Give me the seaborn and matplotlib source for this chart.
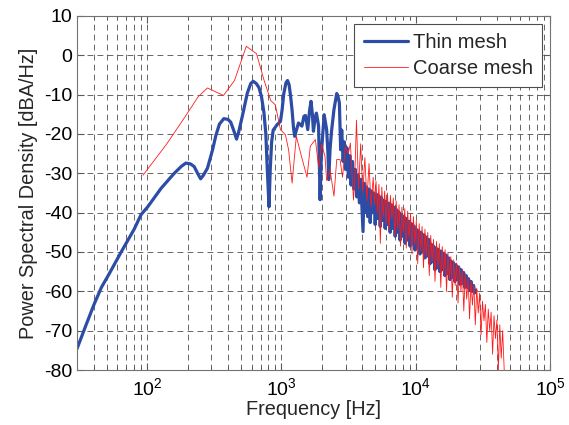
import matplotlib
matplotlib.use("Agg")
import pandas as pd
import matplotlib.pyplot as plt
import seaborn as sns

# Thin mesh spectrum
thin_freq = [30, 35, 40, 45.6, 52, 64, 80, 90, 101, 127, 159, 180, 194, 210, 224, 240, 250, 262,
             281, 307, 324, 345, 372, 400, 419, 440, 463, 480, 511, 557, 590, 616, 650, 680, 710,
             740, 765, 784, 808, 825, 845, 868, 930, 983, 1010, 1040, 1080, 1110, 1140, 1170, 1200,
             1230, 1255, 1280, 1340, 1420, 1470, 1510, 1570, 1620, 1660, 1700, 1730, 1780, 1820,
             1860, 1890, 1920, 1940, 1970, 2000, 2080, 2170, 2220, 2250, 2300, 2360, 2460, 2580,
             2640, 2700, 2760, 2810, 2880, 2940, 3000, 3070, 3150, 3230, 3300, 3380, 3460, 3550,
             3640, 3720, 3810, 3890, 3970, 4050, 4130, 4200,
             4300, 4390, 4490, 4580, 4680, 4780, 4890, 4990, 5100, 5210, 5320, 5440, 5550, 5670,
             5800, 5920, 6050, 6180, 6310, 6450, 6590, 6730, 6880, 7030, 7180, 7330, 7490, 7650,
             7820, 7990, 8160, 8330, 8510, 8700, 8890, 9080, 9270, 9470, 9680, 9890, 10100, 10320,
             10540, 10770, 11000, 11240, 11480, 11730, 11980, 12240, 12500, 12770, 13050, 13330,
             13620, 13910, 14210, 14520, 14830, 15150, 15480, 15810, 16150, 16500, 16860, 17220,
             17590, 17970, 18360, 18760, 19160, 19580, 20000, 20430, 20870, 21320, 21780, 22250,
             22730, 23220, 23720, 24230, 24750, 25290, 25830, 26390, 26960, 27540, 28100]
thin_db = [-74.6, -68.6, -63.5, -59, -55.6, -50, -44.2, -40.5, -38.5, -33.8, -30, -28.2, -27.4,
           -27.6, -28.3, -30.3, -31.4, -30.5, -28.7, -24, -20.5, -17.5, -16.1, -16.3, -17, -19,
           -21.3, -19.5, -15.5, -9.6, -7.2, -6.6, -7.2, -8.2, -10.5, -14.5, -20, -29, -38.5, -29,
           -22, -19, -17.6, -16.8, -14, -9.8, -7, -6.4, -7.5, -10.4, -14, -18.5, -20.6, -19.5,
           -17.2, -18, -15.5, -15.3, -18.9, -14, -11.7, -15, -19.3, -16, -14.7, -16.5, -18, -30,
           -36.7, -28, -23.1, -15.1, -18.9, -25, -31.6, -24, -19.3, -13.8, -9.7, -10.5, -12.1,
           -24, -19, -27, -22, -29, -23.5, -31, -25.5, -33, -27, -34, -29, -36, -30.5, -37.5,
           -31.5, -38, -44.8, -32.5, -40,
           -33.5, -41, -34, -42.5, -34.5, -40, -35, -43, -35.3, -41.5, -35.7, -43.5, -36.2, -42,
           -36.8, -44, -37.2, -43, -37.6, -45, -38, -44, -38.6, -46, -39.2, -45, -39.8, -47,
           -40.5, -46, -41, -47.8, -41.5, -47, -42.2, -48.5, -42.8, -48, -43.4, -49.5, -44.2, -49,
           -44.6, -50.5, -45.1, -50, -45.6, -51.5, -46.2, -51, -46.8, -53, -48, -52.5,
           -48.6, -54.5, -49, -54, -49.4, -55, -49.8, -54.5, -50.3, -56, -50.8, -55.5,
           -51.5, -57, -52.3, -56.5, -52.8, -57.5, -53.3, -57, -53.8, -58.2, -54.5, -58,
           -55.2, -59, -56, -59, -56.8, -59.8, -57.5, -60, -58.5, -60.4, -59.8]

# Coarse mesh spectrum
coarse_freq = [93, 140, 190, 240, 281, 370, 447, 547, 652, 740, 832, 900, 983, 1070, 1130, 1200,
               1290, 1380, 1550, 1640, 1790, 1890, 1990, 2110, 2170, 2300, 2460, 2580, 2730, 2850,
               2990, 3150, 3260, 3440, 3500, 3620, 3750, 3890, 4030, 4180, 4330, 4490, 4650,
               4820, 4940, 5060, 5190, 5320, 5450, 5590, 5730, 5870, 6020, 6170, 6320, 6480, 6640,
               6810, 6980, 7150, 7330, 7510, 7700, 7890, 8090, 8290, 8500, 8710, 8930, 9150, 9380,
               9610, 9850, 10100, 10350, 10610, 10880, 11150, 11430, 11710, 12000, 12300, 12610,
               12930, 13250, 13580, 13920, 14270, 14630, 14990, 15370, 15750, 16140, 16550, 16960,
               17380, 17820, 18260, 18720, 19190, 19670, 20160, 20660, 21180, 21710, 22250, 22800,
               23370, 23960, 24560, 25170, 25800, 26440, 27100, 27780, 28470, 29190, 29920, 30660,
               31430, 32220, 33020, 33850, 34690, 35560, 36450, 37360, 38290, 39250, 40230, 41240,
               42270, 43320, 44400, 45600]
coarse_db = [-30.5, -22.5, -15.8, -10.5, -8.3, -10.2, -6.4, 2.3, 0.4, -6.2, -11.5, -12.6, -18.9,
             -20.2, -24, -32.5, -20.6, -24.5, -31, -23.1, -21.4, -28.4, -22.5, -25.7, -31.8, -29,
             -35.8, -26.5, -26.5, -31, -23.3, -25, -22.3, -36.8, -33, -16.5, -34, -22.5, -35, -26,
             -37, -27.5, -38.5,
             -31, -38, -32, -40, -32.8, -47.8, -33.5, -41, -34.5, -43, -35, -44.5, -35.6, -41.5,
             -36.3, -46, -37, -44, -38, -48.5, -38.6, -45, -39, -49, -39.6, -46.5, -40.3, -50.5,
             -41, -48, -42, -53, -42.8, -49.5, -43.5, -54, -44.2, -51, -45, -56,
             -45.8, -52.5, -46.8, -57.5, -47.3, -54, -47.9, -59, -48.6, -55.5, -49.4, -60,
             -50.3, -57, -51.2, -61.5, -52, -58.5, -52.8, -63, -53.6, -60, -54.5, -65,
             -55.5, -62, -56.5, -67, -57.3, -63.5, -58.3, -68.5, -59.2, -65.5, -60.5, -71,
             -62.5, -67.5, -63.3, -73, -64.5, -70, -65.3, -76, -66.2, -72, -67.3, -80,
             -68.5, -77, -70, -80]

y_ticks = [-80, -70, -60, -50, -40, -30, -20, -10, 0, 10]

thin = pd.DataFrame({'Frequency': thin_freq, 'PSD': thin_db})
coarse = pd.DataFrame({'Frequency': coarse_freq, 'PSD': coarse_db})

sns.set_style("ticks")
plt.rcParams['font.family'] = ['Liberation Sans', 'DejaVu Sans']
plt.rcParams['axes.unicode_minus'] = False

fig = plt.figure(figsize=(5.69, 4.25), dpi=100)
ax = fig.add_axes([0.1353, 0.1294, 0.8313, 0.833])

sns.lineplot(data=thin, x='Frequency', y='PSD', color='#2c4ca6', lw=2.3,
             label='Thin mesh', estimator=None, sort=False, ax=ax)
sns.lineplot(data=coarse, x='Frequency', y='PSD', color='#ff1a1a', lw=0.6,
             label='Coarse mesh', estimator=None, sort=False, ax=ax)

ax.set_xscale('log')
ax.set_xlim(30, 1e5)
ax.set_ylim(-80, 10)
ax.set_yticks(y_ticks)

grid_kw = dict(color='0.3', lw=0.6, linestyle=(0, (7, 5)))
ax.grid(True, which='both', axis='x', **grid_kw)
ax.grid(True, which='major', axis='y', **grid_kw)

ax.tick_params(which='both', direction='in', top=True, right=True, colors='0.35',
               labelcolor='black', labelsize=14)
ax.tick_params(which='major', length=5)
ax.tick_params(which='minor', length=3)
ax.tick_params(axis='x', which='major', pad=5)
for s in ax.spines.values():
    s.set_color('0.45')
    s.set_linewidth(0.8)

ax.set_xlabel('Frequency [Hz]', fontsize=14.3, labelpad=1)
ax.set_ylabel('Power Spectral Density [dBA/Hz]', fontsize=14.3, labelpad=4)

leg = ax.legend(loc='upper right', fontsize=14.5, handlelength=2.2, handletextpad=0.25,
                fancybox=False, framealpha=1, edgecolor='0.3', borderaxespad=0.4,
                borderpad=0.45, labelspacing=0.35)
leg.get_frame().set_linewidth(0.8)

fig.savefig('out.png', dpi=100)
